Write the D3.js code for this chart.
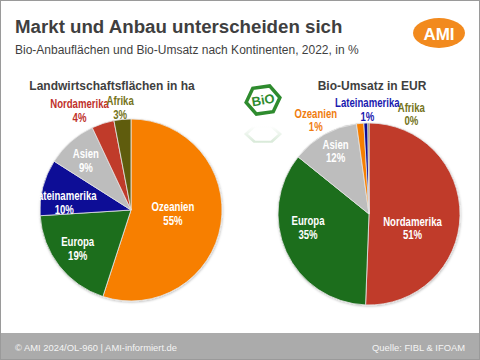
<!DOCTYPE html>
<html><head><meta charset="utf-8">
<script src="https://cdn.jsdelivr.net/npm/d3@7"></script>
<style>
html,body{margin:0;padding:0;background:#fff;}
svg{display:block;font-family:"Liberation Sans",Arial,sans-serif;}
</style></head>
<body><svg id="c" width="480" height="360"></svg>
<script>
// ---- data ----
const areaCategories = ["Ozeanien","Europa","Lateinamerika","Asien","Nordamerika","Afrika"];
const areaValues     = [55, 19, 10, 9, 4, 3];
const salesCategories = ["Nordamerika","Europa","Asien","Ozeanien","Lateinamerika","Afrika"];
const salesValues     = [50.6, 35.2, 12.0, 1.3, 0.7, 0.2];
const chartTitles = ["Landwirtschaftsflächen in ha","Bio-Umsatz in EUR"];

// ---- styles ----
const colors = {
  Ozeanien:"#F77F00", Europa:"#1C6E1C", Lateinamerika:"#0B0B96",
  Asien:"#BDBDBD", Nordamerika:"#C03A2B", Afrika:"#5E5C0C"
};
const outColors = {
  Ozeanien:"#F07D10", Lateinamerika:"#1A1AB0", Nordamerika:"#C0302A", Afrika:"#74731A"
};

const svg = d3.select("#c");

// frame
svg.append("rect").attr("x",0.5).attr("y",0.5).attr("width",479).attr("height",359)
  .attr("fill","#fff").attr("stroke","#9a9a9a");
svg.append("rect").attr("x",1).attr("y",333).attr("width",478).attr("height",26).attr("fill","#ababab");

// title
svg.append("text").attr("x",15).attr("y",33).attr("font-size",18.7).attr("font-weight","bold")
  .attr("fill","#3f3f3f").text("Markt und Anbau unterscheiden sich");
svg.append("text").attr("x",15).attr("y",54).attr("font-size",12)
  .attr("fill","#3f3f3f").text("Bio-Anbauflächen und Bio-Umsatz nach Kontinenten, 2022, in %");

// AMI logo
svg.append("ellipse").attr("cx",439).attr("cy",33).attr("rx",26).attr("ry",15).attr("fill","#F28A1E");
svg.append("text").attr("x",439).attr("y",39.5).attr("text-anchor","middle").attr("font-size",17)
  .attr("font-weight","bold").attr("fill","#fff").text("AMI");

// footer
svg.append("text").attr("x",15).attr("y",350.5).attr("font-size",9.4).attr("fill","#f4f4f4")
  .text("© AMI 2024/OL-960 | AMI-informiert.de");
svg.append("text").attr("x",465).attr("y",350.5).attr("text-anchor","end").attr("font-size",9.4)
  .attr("fill","#f4f4f4").text("Quelle: FIBL & IFOAM");

// shadow filter
const defs = svg.append("defs");
const f = defs.append("filter").attr("id","sh").attr("x","-10%").attr("y","-10%").attr("width","120%").attr("height","120%");
f.append("feDropShadow").attr("dx",0.5).attr("dy",1).attr("stdDeviation",1.2).attr("flood-color","#000").attr("flood-opacity",0.25);
const lg = defs.append("linearGradient").attr("id","fade").attr("x1",0).attr("y1",0).attr("x2",0).attr("y2",1);
lg.append("stop").attr("offset","0").attr("stop-color","#2E8B2E").attr("stop-opacity",0.18);
lg.append("stop").attr("offset","1").attr("stop-color","#2E8B2E").attr("stop-opacity",0);

// BIO logo
const bio = svg.append("g").attr("transform","translate(263,100)");
const hex = d3.range(6).map(i => { const a = Math.PI/3*i; return [17*Math.cos(a), 15*Math.sin(a)]; });
bio.append("polygon").attr("points",hex.map(p=>p.join(",")).join(" "))
  .attr("fill","#fff").attr("stroke","#2E8B2E").attr("stroke-width",3.5).attr("transform","rotate(-8)");
bio.append("text").attr("x",0).attr("y",4.5).attr("text-anchor","middle").attr("font-size",13)
  .attr("font-weight","bold").attr("fill","#2E8B2E").attr("transform","rotate(-10)").text("BiO");
bio.append("polygon").attr("points",hex.map(p=>p.join(",")).join(" "))
  .attr("fill","none").attr("stroke","url(#fade)").attr("stroke-width",3.5)
  .attr("transform","translate(0,34) scale(1,-0.6)");

// pies
const pieLayout = d3.pie().sort(null).value(d => d.v);

function drawPie(cats, vals, cx, cy, r, title, titleX, nudges, outsideThreshold) {
  const data = cats.map((c,i)=>({c, v: vals[i]}));
  const arcs = pieLayout(data);
  const g = svg.append("g").attr("transform",`translate(${cx},${cy})`);
  const arc = d3.arc().innerRadius(0).outerRadius(r);
  g.append("g").attr("filter","url(#sh)").selectAll("path").data(arcs).join("path")
    .attr("d",arc).attr("fill",d=>colors[d.data.c]).attr("stroke","#e6e6e6").attr("stroke-width",0.8);

  svg.append("text").attr("x",titleX).attr("y",90).attr("text-anchor","middle")
    .attr("font-size",12).attr("font-weight","bold").attr("fill","#3f3f3f").text(title);

  arcs.forEach(d => {
    const outside = d.data.v < outsideThreshold;
    const f = outside ? (r+14)/r : (d.data.v > 40 ? 0.5 : 0.7);
    const a = (d.startAngle + d.endAngle)/2;
    const n = nudges[d.data.c] || [0,0];
    const x = Math.sin(a)*r*f + n[0];
    const y = -Math.cos(a)*r*f + n[1];
    const lgp = g.append("g").attr("transform",`translate(${x},${y}) scale(0.8,1)`);
    const t = lgp.append("text").attr("text-anchor","middle")
      .attr("font-weight","bold").attr("font-size",12)
      .attr("fill", outside ? outColors[d.data.c] : "#fff");
    t.append("tspan").attr("x",0).attr("y",-2).text(d.data.c);
    t.append("tspan").attr("x",0).attr("y",11.5).text(Math.round(d.data.v)+"%");
  });
}

drawPie(areaCategories, areaValues, 131, 210, 91, chartTitles[0], 112,
  {Ozeanien:[-3,-4], Europa:[-3,-1], Lateinamerika:[-5,8], Asien:[-3,-2], Nordamerika:[-19,0], Afrika:[-1,2]}, 5);
drawPie(salesCategories, salesValues, 369, 214, 91, chartTitles[1], 372,
  {Nordamerika:[-2,13], Europa:[-3,-13], Asien:[-2,-8], Ozeanien:[-43,10], Lateinamerika:[2,0], Afrika:[43,5]}, 2);
</script></body></html>
